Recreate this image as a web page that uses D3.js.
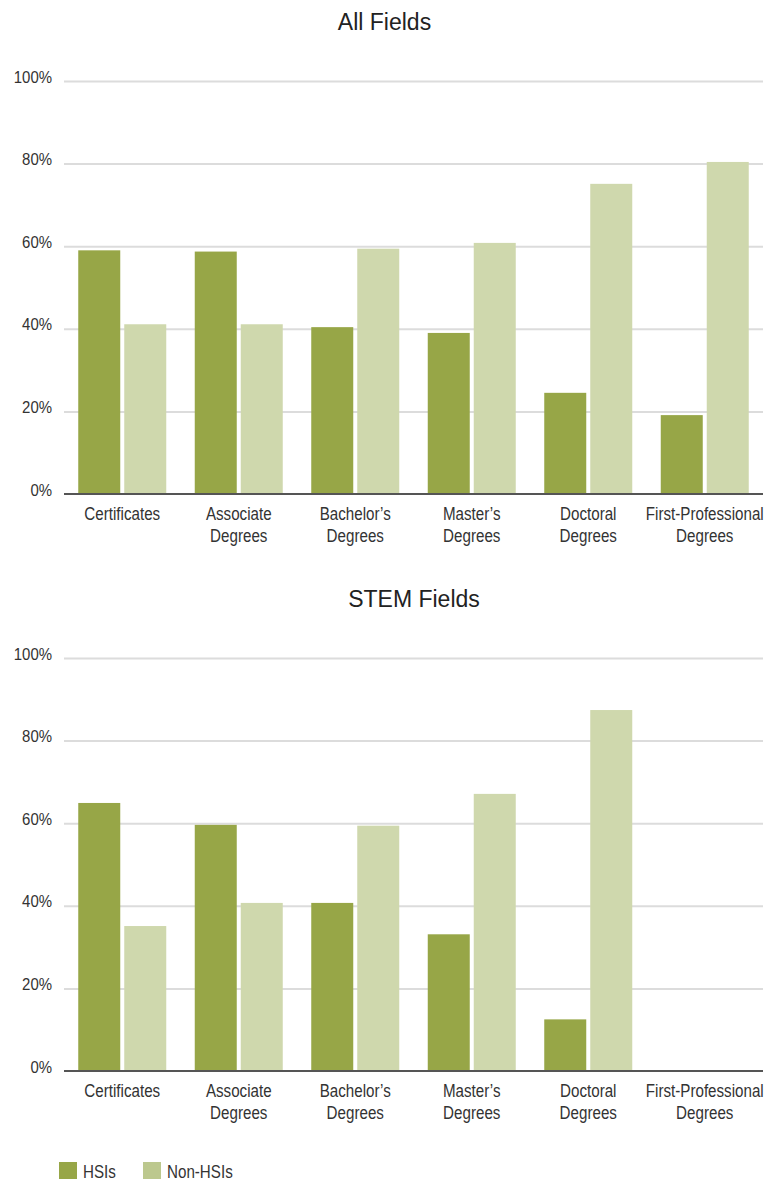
<!DOCTYPE html>
<html lang="en">
<head>
    <meta charset="UTF-8">
    <title>HSIs vs Non-HSIs degrees</title>
    <style>
        body { margin: 0; background: #fff; }
        text { font-family: "Liberation Sans", Arial, sans-serif; }
    </style>
</head>

<body>
    <svg id="container" width="765" height="1182"></svg>
</body>

<script src="https://cdn.jsdelivr.net/npm/d3@7/dist/d3.min.js"></script>

<script>

    // data (percent of degrees)
    let categories = ["Certificates", "Associate Degrees", "Bachelor’s Degrees",
        "Master’s Degrees", "Doctoral Degrees", "First-Professional Degrees"]
    let series = ["HSIs", "Non-HSIs"]
    let yTicks = [0, 20, 40, 60, 80, 100]

    let allHSI = [59.0, 58.7, 40.4, 39.0, 24.5, 19.1]
    let allNonHSI = [41.1, 41.1, 59.4, 60.8, 75.1, 80.4]

    let stemHSI = [64.9, 59.6, 40.7, 33.1, 12.5, null]
    let stemNonHSI = [35.1, 40.7, 59.4, 67.1, 87.4, null]

    let colors = { "HSIs": "#97a647", "Non-HSIs": "#cfd8ad" }
    let legendColors = { "HSIs": "#97a647", "Non-HSIs": "#bcc88e" }

    // the original uses a condensed face; squeeze the sans horizontally
    let narrow = 0.82

    let container = d3.select("#container")

    let left = 64, right = 763

    let x0 = d3.scaleBand()
        .domain(categories)
        .range([left, right])

    let x1 = d3.scaleBand()
        .domain(series)
        .range([14.25, x0.step() - 14.25])
        .paddingInner(0.087)

    function drawPanel(title, titleX, top, bottom, hsi, non) {

        let y = d3.scaleLinear()
            .domain([0, 100])
            .range([bottom, top])

        let g = container.append("g")

        g.append("text")
            .attr("x", titleX)
            .attr("y", top - 51)
            .attr("text-anchor", "middle")
            .attr("font-size", "23px")
            .attr("fill", "#222")
            .text(title)

        // gridlines
        let grid = g.append("g")
            .attr("transform", `translate(${left},0)`)
            .call(d3.axisLeft(y).tickValues(yTicks.slice(1)).tickSize(-(right - left)).tickFormat(""))
        grid.select(".domain").remove()
        grid.selectAll("line").attr("stroke", "#dcdcdc").attr("stroke-width", 2)

        // tick labels
        g.selectAll(".ylab")
            .data(yTicks)
            .enter()
            .append("text")
            .attr("class", "ylab")
            .attr("transform", d => `translate(52,${y(d) + 1.5}) scale(0.88,1)`)
            .attr("text-anchor", "end")
            .attr("font-size", "17px")
            .attr("fill", "#333")
            .text(d => d + "%")

        let rows = categories.map((c, i) => ({ cat: c, values: [
            { key: "HSIs", value: hsi[i] },
            { key: "Non-HSIs", value: non[i] }
        ] }))

        let groups = g.selectAll(".grp")
            .data(rows)
            .enter()
            .append("g")
            .attr("transform", d => `translate(${x0(d.cat)},0)`)

        groups.selectAll("rect")
            .data(d => d.values.filter(v => v.value != null))
            .enter()
            .append("rect")
            .attr("x", d => x1(d.key))
            .attr("width", x1.bandwidth())
            .attr("y", d => y(d.value))
            .attr("height", d => y(0) - y(d.value))
            .attr("fill", d => colors[d.key])

        // baseline
        g.append("line")
            .attr("x1", left)
            .attr("x2", right)
            .attr("y1", y(0))
            .attr("y2", y(0))
            .attr("stroke", "#555")
            .attr("stroke-width", 2)

        // category labels
        let labels = g.selectAll(".xlab")
            .data(categories)
            .enter()
            .append("text")
            .attr("text-anchor", "middle")
            .attr("font-size", "18.5px")
            .attr("fill", "#333")
            .attr("transform", d => `translate(${x0(d) + x0.bandwidth() / 2},${y(0) + 25.5}) scale(${narrow},1)`)

        labels.selectAll("tspan")
            .data(d => d.split(" "))
            .enter()
            .append("tspan")
            .attr("x", 0)
            .attr("dy", (d, i) => i == 0 ? 0 : 23)
            .text(d => d)
    }

    drawPanel("All Fields", 384.5, 81, 494, allHSI, allNonHSI)
    drawPanel("STEM Fields", 414, 658, 1071, stemHSI, stemNonHSI)

    // legend
    let legend = container.selectAll(".leg")
        .data(series)
        .enter()
        .append("g")
        .attr("transform", (d, i) => `translate(${59 + i * 84},1162)`)

    legend.append("rect")
        .attr("width", 18)
        .attr("height", 17)
        .attr("fill", d => legendColors[d])

    legend.append("text")
        .attr("transform", `translate(24,15.5) scale(${narrow},1)`)
        .attr("font-size", "18.5px")
        .attr("fill", "#333")
        .text(d => d)

</script>

</html>
